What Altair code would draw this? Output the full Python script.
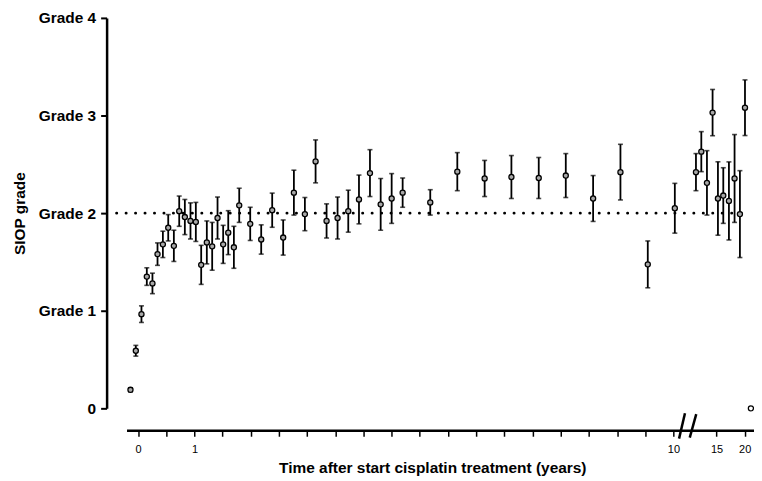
import altair as alt
import pandas as pd

# x positions are in axis units: one unit = one minor tick (0 -> "0", 2 -> "1", 19 -> "10", 20.53 -> "15", 21.53 -> "20")
pos = [-0.27, -0.08, 0.12, 0.31, 0.51, 0.69, 0.88, 1.07, 1.27, 1.46,
       1.66, 1.86, 2.05, 2.24, 2.44, 2.63, 2.82, 3.02, 3.20, 3.40,
       3.59, 3.98, 4.37, 4.76, 5.15, 5.53, 5.92, 6.30, 6.69, 7.08,
       7.46, 7.84, 8.23, 8.61, 9.00, 9.39, 10.37, 11.33, 12.30, 13.25,
       14.22, 15.18, 16.15, 17.12, 18.09, 19.05, 19.80, 19.99, 20.19, 20.39,
       20.58, 20.77, 20.97, 21.17, 21.36, 21.54, 21.75]
mean = [0.19, 0.59, 0.965, 1.35, 1.28, 1.58, 1.68, 1.85, 1.665, 2.02,
        1.96, 1.92, 1.91, 1.47, 1.70, 1.66, 1.95, 1.68, 1.80, 1.65,
        2.08, 1.89, 1.73, 2.03, 1.75, 2.21, 1.99, 2.53, 1.92, 1.95,
        2.02, 2.14, 2.41, 2.09, 2.15, 2.21, 2.11, 2.425, 2.355, 2.37,
        2.36, 2.385, 2.15, 2.42, 1.475, 2.05, 2.42, 2.63, 2.31, 3.03,
        2.15, 2.18, 2.125, 2.355, 1.99, 3.08, 0.0]
err = [0.02, 0.055, 0.085, 0.09, 0.105, 0.115, 0.135, 0.135, 0.16, 0.155,
       0.18, 0.185, 0.2, 0.2, 0.22, 0.245, 0.215, 0.195, 0.225, 0.215,
       0.175, 0.17, 0.15, 0.175, 0.18, 0.23, 0.17, 0.22, 0.175, 0.215,
       0.215, 0.25, 0.24, 0.265, 0.255, 0.15, 0.13, 0.195, 0.185, 0.22,
       0.21, 0.225, 0.235, 0.285, 0.24, 0.255, 0.19, 0.205, 0.33, 0.237,
       0.376, 0.285, 0.4, 0.45, 0.445, 0.285, 0.0]

x_ticks = list(range(0, 20)) + [20.53, 21.53]
x_tick_pos = [0, 2, 19, 20.53, 21.53]
x_tick_lab = ["0", "1", "10", "15", "20"]
y_ticks = [0, 1, 2, 3, 4]
ref_grade = 2
ref_start, ref_end = -0.76, 21.7
# axis break marks (x from, x to, y from, y to)
brk_x = [19.2, 19.58]
brk_x2 = [19.41, 19.81]
brk_y = [-0.31, -0.30]
brk_y2 = [-0.05, -0.06]

df = pd.DataFrame({"pos": pos, "mean": mean, "err": err})
df["lo"] = df["mean"] - df["err"]
df["hi"] = df["mean"] + df["err"]
bars = df[df["err"] > 0]

FONT = "Liberation Sans"
xdom = [-0.41, 21.86]

label_expr = " : ".join(
    f"datum.value == {p} ? '{l}'" for p, l in zip(x_tick_pos, x_tick_lab)
) + " : ''"

xscale = alt.Scale(domain=xdom, nice=False, zero=False)
yscale = alt.Scale(domain=[0, 4], nice=False, zero=False)

xaxis = alt.Axis(
    values=x_ticks, labelExpr=label_expr, offset=22, grid=False, ticks=True,
    labelOverlap=False, labelFlush=False, labelBound=False,
    domainWidth=2.5, domainColor="black", tickColor="black", tickWidth=1.5,
    tickSize=6, tickOpacity=1, labelPadding=7, labelFontSize=11, labelColor="black",
    labelFont=FONT, title="Time after start cisplatin treatment (years)",
    titleFont=FONT, titleFontSize=15.5, titleFontWeight="bold",
    titleColor="black", titleX=307, titlePadding=6,
)
yaxis = alt.Axis(
    values=y_ticks, labelExpr="datum.value == 0 ? '0' : 'Grade ' + datum.value",
    offset=20, grid=False, domainWidth=2.5, domainColor="black",
    tickColor="black", tickWidth=2, tickSize=6, labelPadding=5,
    labelFontSize=15.5, labelFontWeight="bold", labelColor="black",
    labelFont=FONT, title="SIOP grade", titleFont=FONT, titleFontSize=15.5,
    titleFontWeight="bold", titleColor="black", titlePadding=11,
)

X = alt.X("pos:Q", scale=xscale, axis=xaxis)

ref = alt.Chart(pd.DataFrame({"pos": [ref_start], "pos2": [ref_end], "y": [ref_grade]})).mark_rule(
    color="black", strokeWidth=3, strokeDash=[0, 9.5], strokeCap="round"
).encode(
    x2="pos2:Q",
    y=alt.Y("y:Q", scale=yscale, axis=yaxis),
)

base = alt.Chart(bars)
vbars = base.mark_rule(color="black", strokeWidth=1.8).encode(
    y=alt.Y("lo:Q", scale=yscale, axis=yaxis), y2="hi:Q"
)
cap_hi = base.mark_tick(color="black", orient="horizontal", size=5, thickness=1.6).encode(
    y=alt.Y("hi:Q", scale=yscale, axis=yaxis)
)
cap_lo = base.mark_tick(color="black", orient="horizontal", size=5, thickness=1.6).encode(
    y=alt.Y("lo:Q", scale=yscale, axis=yaxis)
)
pts = alt.Chart(df).mark_point(
    shape="circle", size=26, filled=False, stroke="black", strokeWidth=1.3, opacity=1
).encode(
    y=alt.Y("mean:Q", scale=yscale, axis=yaxis),
    fill=alt.condition("datum.err > 0", alt.value("#a8a8a8"), alt.value("white")),
)

brk = alt.Chart(pd.DataFrame({"pos": brk_x, "pos2": brk_x2, "y": brk_y, "y2": brk_y2})).mark_rule(
    color="black", strokeWidth=2.5
).encode(
    x2="pos2:Q", y=alt.Y("y:Q", scale=yscale, axis=yaxis), y2="y2:Q"
)

chart = alt.layer(ref, vbars, cap_hi, cap_lo, pts, brk).encode(x=X).properties(
    width=630, height=392,
    autosize=alt.AutoSizeParams(type="none"),
    padding={"left": 119, "top": 9, "right": 0, "bottom": 72},
    background="white",
).configure_view(stroke=None)

chart.save("out.html", embed_options={"renderer": "svg", "actions": False})
